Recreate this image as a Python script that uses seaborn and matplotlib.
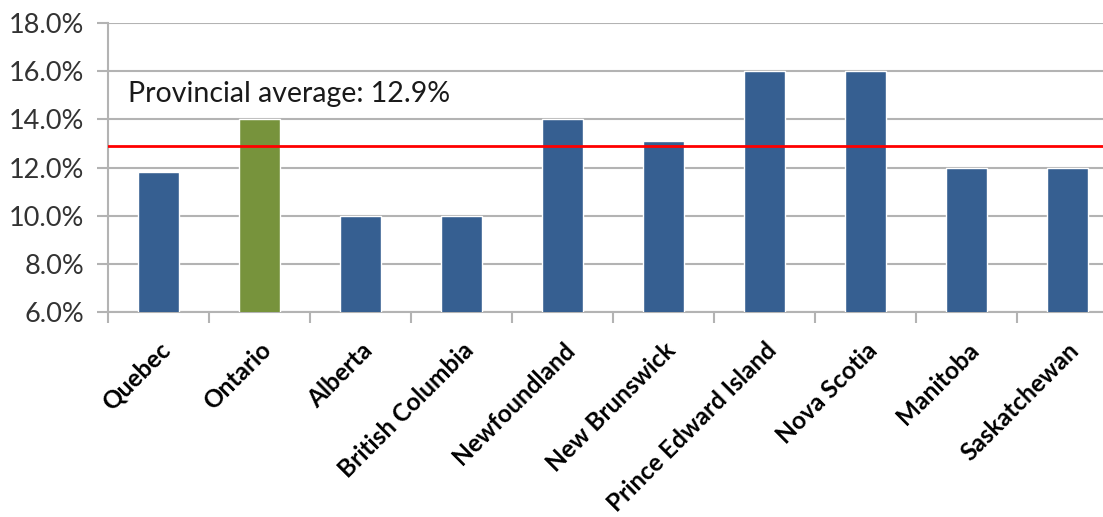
import matplotlib
matplotlib.use("Agg")
import matplotlib.pyplot as plt
import seaborn as sns
import pandas as pd
import numpy as np
from matplotlib.ticker import FuncFormatter, FixedLocator

provinces = ["Quebec", "Ontario", "Alberta", "British Columbia", "Newfoundland",
             "New Brunswick", "Prince Edward Island", "Nova Scotia", "Manitoba", "Saskatchewan"]
rates = [11.8, 14.0, 10.0, 10.0, 14.0, 13.1, 16.0, 16.0, 12.0, 12.0]
highlight = "Ontario"
average = 12.9
avg_label = "Provincial average: 12.9%"

BLUE = "#365f91"
GREEN = "#77933c"
GRID = "#b3b3b3"

sns.set_theme(style="white")
plt.rcParams['font.family'] = ['Lato', 'DejaVu Sans']

df = pd.DataFrame({"province": provinces, "rate": rates})
palette = {p: (GREEN if p == highlight else BLUE) for p in provinces}

fig = plt.figure(figsize=(11.03, 5.17), dpi=100)
ax = fig.add_axes([108/1103, 205/517, 1010/1103, 289/517])

sns.barplot(data=df, x="province", y="rate", hue="province", palette=palette,
            width=0.4, legend=False, ax=ax, saturation=1, zorder=3)

ax.set_ylim(6, 18)
ax.set_xlim(-0.5, len(provinces) - 0.5)
ax.set_yticks(np.arange(6, 18.1, 2))
ax.yaxis.set_major_formatter(FuncFormatter(lambda v, p: f"{v:.1f}%"))
ax.grid(axis="y", color=GRID, linewidth=1.5, zorder=0)
ax.set_axisbelow(True)

ax.axhline(average, color="#ff0000", linewidth=2, zorder=4)
ax.text(-0.3, 15.05, avg_label, fontsize=20.5, color="#1a1a1a",
        ha="left", va="center")

for s in ["top", "right"]:
    ax.spines[s].set_visible(False)
for s in ["left", "bottom"]:
    ax.spines[s].set_color(GRID)
    ax.spines[s].set_linewidth(1.5)

ax.set_xlabel("")
ax.set_ylabel("")
ax.tick_params(axis="y", which="major", left=True, length=8, width=1.5, color=GRID,
               labelsize=19.5, labelcolor="#333333", pad=9)
ax.xaxis.set_minor_locator(FixedLocator(np.arange(-0.5, len(provinces), 1.0)))
ax.tick_params(axis="x", which="minor", bottom=True, length=8, width=1.5, color=GRID)
ax.tick_params(axis="x", which="major", bottom=False, length=0, pad=19)
ax.set_xticks(range(len(provinces)))
ax.set_xticklabels(provinces, rotation=45, ha="right", va="top", rotation_mode="anchor",
                   fontsize=17.6, fontweight="bold", color="black")

fig.savefig("out.png", dpi=100)
